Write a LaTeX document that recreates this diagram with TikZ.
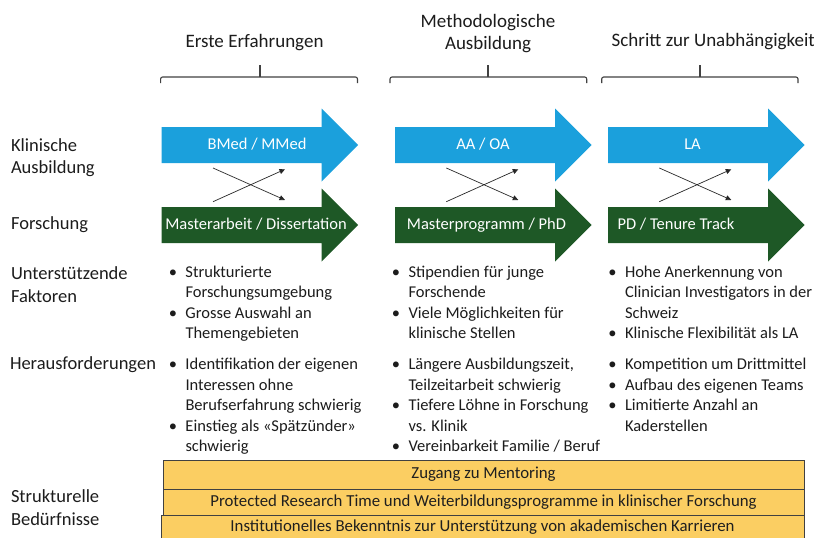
\documentclass[tikz,border=0pt]{standalone}
\usepackage{fontspec}
\setmainfont{Carlito}
\usetikzlibrary{arrows.meta}
\definecolor{cblue}{RGB}{27,160,220}
\definecolor{cgreen}{RGB}{30,88,38}
\definecolor{cyellow}{RGB}{251,206,98}
\definecolor{ctext}{RGB}{28,28,28}
\definecolor{cline}{RGB}{65,65,65}
\newcommand\fstrut{\rule{0pt}{14pt}}
\newcommand\hstrut{\rule{0pt}{15pt}}
\newcommand\bul{\llap{•\hspace{8.5pt}}}
\newcommand\bigarrow[3]{\fill[#3] (#1,#2-18) -- (#1+160,#2-18) -- (#1+160,#2-36.5) -- (#1+196.5,#2) -- (#1+160,#2+36.5) -- (#1+160,#2+18) -- (#1,#2+18) -- cycle;}
\begin{document}
\begin{tikzpicture}[x=1pt,y=-1pt,
  every node/.style={inner sep=0pt, outer sep=0pt, text=ctext},
  head/.style={font=\fontsize{19}{22}\selectfont, anchor=base},
  headm/.style={font=\fontsize{19}{22}\selectfont, anchor=north, align=center},
  rowlabel/.style={font=\fontsize{18.5}{22.5}\selectfont, anchor=north west, align=left},
  rowlabel1/.style={font=\fontsize{18.5}{22.5}\selectfont, anchor=base west},
  blist/.style={font=\fontsize{16.5}{20.5}\selectfont, anchor=north west, align=left},
  arrtext/.style={font=\fontsize{16.5}{20}\selectfont, text=white, text height=11pt, text depth=3pt},
  brace/.style={draw=cline, line width=1.1pt, rounded corners=2pt},
  cross/.style={draw=black!85, line width=0.7pt, -{Triangle[length=5.5pt,width=5pt]}},
  bar/.style={draw=cline, fill=cyellow, line width=0.8pt, anchor=north west, font=\fontsize{16.8}{18}\selectfont, text=black!88, text height=11pt, text depth=3pt}
]
\useasboundingbox (0,0) rectangle (814,538);
\fill[white] (0,0) rectangle (814,538);

% headings
\node[head] (h1) at (254.5,47.5) {Erste Erfahrungen};
\node[headm] (h2) at (488,12.5) {\hstrut Methodologische\\Ausbildung};
\node[head, anchor=base west] (h3) at (611.7,46.5) {Schritt zur Unabhängigkeit};

% braces
\draw[brace] (160.6,83) -- (160.6,77) -- (357.5,77) -- (357.5,83);
\draw[brace] (260,77) -- (260,65);
\draw[brace] (390,83) -- (390,77) -- (586.7,77) -- (586.7,83);
\draw[brace] (488,77) -- (488,65);
\draw[brace] (601.7,83) -- (601.7,77) -- (798,77) -- (798,83);
\draw[brace] (700,77) -- (700,65);

% arrows
\bigarrow{161.7}{145}{cblue}
\bigarrow{395}{145}{cblue}
\bigarrow{608}{145}{cblue}
\bigarrow{161.7}{225}{cgreen}
\bigarrow{395}{225}{cgreen}
\bigarrow{608}{225}{cgreen}

\node[arrtext] (a1) at (257,145) {BMed / MMed};
\node[arrtext] (a2) at (483,145) {AA / OA};
\node[arrtext] (a3) at (692.5,145) {LA};
\node[arrtext] (g1) at (256,225) {Masterarbeit / Dissertation};
\node[arrtext] (g2) at (486.5,225) {Masterprogramm / PhD};
\node[arrtext] (g3) at (676,225) {PD / Tenure Track};

% crossing arrows
\foreach \i/\dx in {1/0,2/233.3,3/446.3}{
  \coordinate (x\i a) at (213+\dx,168);
  \coordinate (x\i b) at (285+\dx,200);
  \coordinate (x\i c) at (213+\dx,201.7);
  \coordinate (x\i d) at (285+\dx,169.3);
  \draw[cross] (x\i a) -- (x\i b);
  \draw[cross] (x\i c) -- (x\i d);
}

% row labels
\node[rowlabel] (l1) at (11,136) {\hstrut Klinische\\Ausbildung};
\node[rowlabel1] (l2) at (11,229.5) {Forschung};
\node[rowlabel] (l3) at (11,264.5) {\hstrut Unterstützende\\Faktoren};
\node[rowlabel1] (l4) at (10,369.5) {Herausforderungen};
\node[rowlabel] (l5) at (11,487.5) {\hstrut Strukturelle\\Bedürfnisse};

% supporting factors
\node[blist] (s1) at (185.5,263.3) {\fstrut\bul Strukturierte\\Forschungsumgebung\\\bul Grosse Auswahl an\\Themengebieten};
\node[blist] (s2) at (408.5,263.3) {\fstrut\bul Stipendien für junge\\Forschende\\\bul Viele Möglichkeiten für\\klinische Stellen};
\node[blist] (s3) at (625,263.3) {\fstrut\bul Hohe Anerkennung von\\Clinician Investigators in der\\Schweiz\\\bul Klinische Flexibilität als LA};

% challenges
\node[blist] (c1) at (185.5,355.5) {\fstrut\bul Identifikation der eigenen\\Interessen ohne\\Berufserfahrung schwierig\\\bul Einstieg als «Spätzünder»\\schwierig};
\node[blist] (c2) at (408.5,355.5) {\fstrut\bul Längere Ausbildungszeit,\\Teilzeitarbeit schwierig\\\bul Tiefere Löhne in Forschung\\vs. Klinik\\\bul Vereinbarkeit Familie / Beruf};
\node[blist] (c3) at (625,355.5) {\fstrut\bul Kompetition um Drittmittel\\\bul Aufbau des eigenen Teams\\\bul Limitierte Anzahl an\\Kaderstellen};

% structural needs
\node[bar, minimum width=641pt, minimum height=29pt] (r1) at (163,460) {Zugang zu Mentoring};
\node[bar, minimum width=641pt, minimum height=26pt] (r2) at (163,489) {Protected Research Time und Weiterbildungsprogramme in klinischer Forschung};
\node[bar, minimum width=643pt, minimum height=25pt] (r3) at (161,515) {Institutionelles Bekenntnis zur Unterstützung von akademischen Karrieren};
\end{tikzpicture}
\end{document}
